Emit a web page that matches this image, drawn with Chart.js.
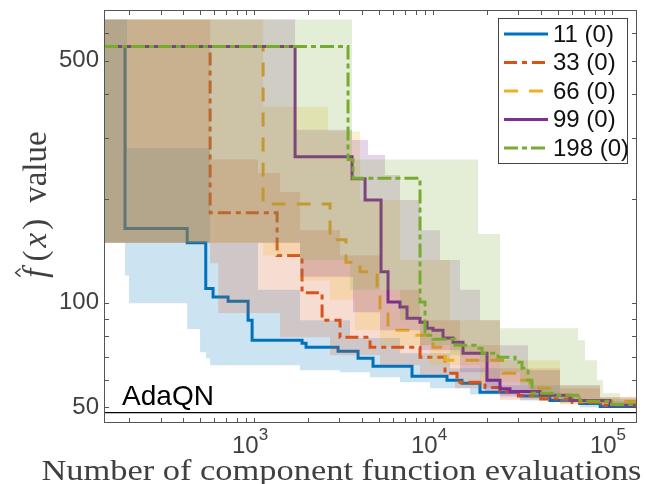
<!DOCTYPE html>
<html>
<head>
<meta charset="utf-8">
<script src="https://cdn.jsdelivr.net/npm/chart.js@4.4.1/dist/chart.umd.min.js"></script>
<style>
    html, body { margin: 0; padding: 0; background: #fff; }
    #wrap { width: 646px; height: 484px; }
</style>
</head>
<body>
<div id="wrap"><canvas id="evalChart" width="646" height="484"></canvas></div>
<script>
// legend labels (batch size (failures))
const seriesLabels = ['11 (0)', '33 (0)', '66 (0)', '99 (0)', '198 (0)'];

// median curves, stepped (value holds until the next x)
const x11 = [145, 190, 423, 537, 590, 716, 926, 975, 1854, 1952, 2946, 3811, 4620, 7632, 11972, 14521, 18303, 30000, 45000, 66000, 86000, 138000];
const y11 = [549, 164, 149, 110, 104, 101, 89, 78, 76.4, 74.4, 72.5, 69.2, 65.6, 61.4, 59.8, 58.6, 55.2, 53.8, 52.3, 51.2, 50.2, 49.6];

const x33 = [145, 568, 1345, 1854, 2399, 3023, 4447, 8461, 11668, 13621, 19521, 23672, 30000, 40000, 60000, 90000, 138000];
const y33 = [549, 182, 137, 107, 89.1, 79.6, 74.4, 69.7, 62.6, 59, 57, 55.5, 54, 52.8, 51.6, 50.6, 49.9];

const x66 = [145, 1123, 2658, 3266, 3911, 4867, 5057, 5606, 7632, 10000, 11668, 24500, 29470, 34840, 45000, 66000, 138000];
const y66 = [549, 193, 152, 131, 123, 107, 95.3, 83.4, 80.6, 74.4, 68.3, 62.6, 59.8, 56.7, 54, 52, 50.4];

const x99 = [145, 1695, 3528, 4171, 5123, 5606, 6542, 7157, 8461, 9259, 10000, 11372, 12934, 14711, 20030, 23672, 26930, 39620, 58280, 97450, 138000];
const y99 = [549, 264, 228, 198, 123, 100.5, 97.2, 90.3, 87.9, 84.5, 83.4, 79.1, 76.9, 71.5, 59.8, 56.5, 55.5, 54.1, 52.3, 50.6, 49.6];

const x198 = [145, 3351, 3573, 8461, 9022, 10000, 13274, 17163, 18784, 23072, 28722, 31420, 33950, 35740, 48050, 66250, 97450, 138000];
const y198 = [549, 259, 229, 100.5, 80.6, 78.5, 75.4, 74, 71.5, 69.7, 67.4, 64.7, 59.8, 54.8, 54.1, 52, 50.9, 50.2];

// shaded ranges (lower / upper), stepped
const band11X = [145, 190, 195, 200, 423, 499, 539, 568, 1052, 1807, 3023, 3439, 4447, 6542, 9622, 12444, 16097, 23672, 30620, 51240, 66250, 138000];
const band11Lo = [149, 120, 120, 99.8, 84, 72, 69.2, 66, 66, 63.9, 63, 63, 61, 59, 56.7, 56.7, 54.4, 54.4, 52.3, 52.3, 49.9, 49.3];
const band11Hi = [657, 657, 280, 280, 280, 280, 280, 149, 109, 89.1, 89.1, 79.1, 79.1, 71.5, 71.5, 64.7, 64.7, 57.8, 57.8, 54.1, 52, 50.2];

const band33X = [145, 568, 630, 1052, 1397, 1807, 2658, 3023, 5057, 8461, 13274, 14157, 23672, 51240, 85700, 138000];
const band33Lo = [149, 130, 93.4, 93.4, 79.6, 79.6, 70.6, 70.6, 66, 61.8, 56.7, 56.7, 52.5, 51, 50.2, 49.3];
const band33Hi = [657, 259, 259, 237, 209, 162, 162, 137, 109, 89.1, 89.1, 75.4, 64.7, 56.7, 53.5, 50.6];

const band66X = [145, 1123, 1695, 1807, 2591, 2658, 3667, 3911, 5057, 6542, 9622, 12444, 18303, 23672, 33950, 51240, 85700, 138000];
const band66Lo = [149, 137, 137, 116, 116, 102, 83.4, 83.4, 75.4, 75.4, 66, 66, 59, 59, 53.5, 51.5, 50.8, 49.9];
const band66Hi = [657, 368, 368, 368, 312, 312, 312, 198, 198, 133, 133, 89.1, 89.1, 68.3, 68.3, 57.8, 53.5, 50.6];

const band99X = [145, 1695, 1807, 3528, 3573, 4335, 5057, 5394, 6542, 8461, 10941, 14157, 18303, 19521, 23672, 33950, 45040, 51240, 85700, 138000];
const band99Lo = [149, 149, 119, 119, 94, 94, 83.4, 83.4, 83.4, 73, 73, 63, 63, 55.2, 53.7, 53.7, 52, 52, 50.6, 49.3];
const band99Hi = [657, 316, 316, 295, 295, 267, 267, 234, 198, 162, 133, 109, 89.1, 89.1, 75.4, 63.9, 63.9, 57.8, 53, 50.6];

const band198X = [145, 1807, 3439, 3528, 6542, 8461, 12444, 17839, 18303, 23672, 30620, 34840, 51240, 64580, 70680, 82460, 89070, 97450, 110840, 138000];
const band198Lo = [149, 133, 109, 109, 89.1, 75.4, 70.6, 70.6, 67.4, 63, 57.8, 53, 51.6, 51.6, 51.6, 51.6, 51.6, 50.2, 50.2, 49.3];
const band198Hi = [657, 657, 657, 259, 259, 259, 259, 158, 158, 84.5, 84.5, 84.5, 84.5, 78, 68.3, 59.8, 54.8, 54.8, 52.3, 50.6];

// reference level
const adaqnX = [145, 138000];
const adaqnY = [48.2, 48.2];
const adaqnLabel = 'AdaQN';
const adaqnLabelX = 183;

// axes
const xRange = [145, 138000];
const yRange = [45, 700];
const xMinorTicks = [200, 300, 400, 500, 600, 700, 800, 900, 2000, 3000, 4000, 5000, 6000, 7000, 8000, 9000, 20000, 30000, 40000, 50000, 60000, 70000, 80000, 90000];
const xMajorTicks = [1000, 10000, 100000];
const xTickLabels = ['10^3', '10^4', '10^5'];
const yTicks = [50, 60, 70, 80, 90, 100, 200, 300, 400, 500, 600];
const yTickLabels = ['50', '100', '500'];
const xTitle = 'Number of component function evaluations';

// styles
const seriesRgb = [[0, 114, 189], [217, 83, 25], [237, 177, 32], [126, 47, 142], [119, 172, 48]];
const seriesDash = [[], [13, 5, 5, 5], [14, 11], [], [14, 4, 5, 4]];
const sansFont = '"Liberation Sans", Arial, sans-serif';
const serifFont = '"Liberation Serif", "Times New Roman", serif';

function toPoints(xs, ys) {
    return xs.map(function (x, i) { return { x: x, y: ys[i] }; });
}

function rgba(c, a) {
    return 'rgba(' + c[0] + ',' + c[1] + ',' + c[2] + ',' + a + ')';
}

document.addEventListener('DOMContentLoaded', function () {
    const medians = [[x11, y11], [x33, y33], [x66, y66], [x99, y99], [x198, y198]];
    const bands = [
        [band11X, band11Lo, band11Hi],
        [band33X, band33Lo, band33Hi],
        [band66X, band66Lo, band66Hi],
        [band99X, band99Lo, band99Hi],
        [band198X, band198Lo, band198Hi]
    ];

    const datasets = [];
    seriesLabels.forEach(function (label, i) {
        // line drawn first, its own band on top of it, next series above both
        datasets.push({
            label: label,
            data: toPoints(medians[i][0], medians[i][1]),
            borderColor: rgba(seriesRgb[i], 1),
            borderWidth: 3,
            borderDash: seriesDash[i],
            borderCapStyle: 'butt',
            stepped: 'before',
            pointRadius: 0,
            fill: false,
            order: 100 - 2 * i
        });
        datasets.push({
            label: label + ' low',
            data: toPoints(bands[i][0], bands[i][1]),
            borderColor: 'rgba(0,0,0,0)',
            borderWidth: 0,
            stepped: 'before',
            pointRadius: 0,
            fill: false,
            order: 99 - 2 * i
        });
        datasets.push({
            label: label + ' high',
            data: toPoints(bands[i][0], bands[i][2]),
            borderColor: 'rgba(0,0,0,0)',
            borderWidth: 0,
            stepped: 'before',
            pointRadius: 0,
            fill: '-1',
            backgroundColor: rgba(seriesRgb[i], 0.2),
            order: 99 - 2 * i
        });
    });
    datasets.push({
        label: adaqnLabel,
        data: toPoints(adaqnX, adaqnY),
        borderColor: '#000',
        borderWidth: 1.2,
        pointRadius: 0,
        fill: false,
        order: 0
    });

    const axesDecor = {
        id: 'axesDecor',
        afterDraw: function (chart) {
            const ctx = chart.ctx;
            const area = chart.chartArea;
            const xs = chart.scales.x;
            const ys = chart.scales.y;
            ctx.save();
            ctx.setLineDash([]);

            // AdaQN label
            ctx.fillStyle = '#000';
            ctx.font = '28px ' + sansFont;
            ctx.textAlign = 'left';
            ctx.textBaseline = 'alphabetic';
            ctx.fillText(adaqnLabel, xs.getPixelForValue(adaqnLabelX), ys.getPixelForValue(adaqnY[0]) - 8);

            // box and inward ticks
            ctx.strokeStyle = '#555';
            ctx.lineWidth = 1;
            ctx.strokeRect(area.left + 0.5, area.top + 0.5, area.right - area.left - 1, area.bottom - area.top - 1);
            ctx.beginPath();
            xMinorTicks.concat(xMajorTicks).forEach(function (v) {
                const px = Math.round(xs.getPixelForValue(v)) + 0.5;
                ctx.moveTo(px, area.bottom);
                ctx.lineTo(px, area.bottom - 5);
                ctx.moveTo(px, area.top);
                ctx.lineTo(px, area.top + 5);
            });
            yTicks.forEach(function (v) {
                const py = Math.round(ys.getPixelForValue(v)) + 0.5;
                ctx.moveTo(area.left, py);
                ctx.lineTo(area.left + 5, py);
                ctx.moveTo(area.right, py);
                ctx.lineTo(area.right - 5, py);
            });
            ctx.stroke();

            // x tick labels with superscript
            ctx.fillStyle = '#404040';
            xMajorTicks.forEach(function (v, i) {
                const parts = xTickLabels[i].split('^');
                ctx.font = '24px ' + sansFont;
                const wb = ctx.measureText(parts[0]).width;
                ctx.font = '17px ' + sansFont;
                const we = ctx.measureText(parts[1]).width;
                const left = xs.getPixelForValue(v) - (wb + we) / 2 - 4;
                ctx.font = '24px ' + sansFont;
                ctx.fillText(parts[0], left, area.bottom + 30);
                ctx.font = '17px ' + sansFont;
                ctx.fillText(parts[1], left + wb, area.bottom + 17);
            });

            // x title
            ctx.font = '29px ' + serifFont;
            ctx.textAlign = 'center';
            const tw = ctx.measureText(xTitle).width;
            ctx.save();
            ctx.translate(341.5, area.bottom + 57);
            ctx.scale(Math.max(1, 600 / tw), 1);
            ctx.fillText(xTitle, 0, 0);
            ctx.restore();

            // y title: \hat{f}(x) value
            const segs = [
                { t: 'f', it: true, gap: 0 },
                { t: '(', it: false, gap: 7 },
                { t: 'x', it: true, gap: 3 },
                { t: ')', it: false, gap: 3 },
                { t: 'value', it: false, gap: 16 }
            ];
            ctx.textAlign = 'left';
            let total = 0;
            segs.forEach(function (s) {
                ctx.font = (s.it ? 'italic ' : '') + '33px ' + serifFont;
                s.w = ctx.measureText(s.t).width;
                total += s.gap + s.w;
            });
            ctx.save();
            ctx.translate(area.left - 58.5, (area.top + area.bottom) / 2 - 12);
            ctx.rotate(-Math.PI / 2);
            let pos = -total / 2;
            segs.forEach(function (s, i) {
                pos += s.gap;
                ctx.font = (s.it ? 'italic ' : '') + '33px ' + serifFont;
                ctx.fillText(s.t, pos, 0);
                if (i === 0) {
                    // hat over f
                    ctx.beginPath();
                    ctx.lineWidth = 1.3;
                    ctx.strokeStyle = '#404040';
                    ctx.moveTo(pos + 1, -25);
                    ctx.lineTo(pos + 5, -30);
                    ctx.lineTo(pos + 9, -25);
                    ctx.stroke();
                }
                pos += s.w;
            });
            ctx.restore();

            // legend box
            const lx = area.right - 139;
            const ly = area.top + 8;
            const lw = 130;
            const lh = 146;
            ctx.fillStyle = '#fff';
            ctx.fillRect(lx, ly, lw, lh);
            ctx.strokeStyle = '#444';
            ctx.lineWidth = 1;
            ctx.strokeRect(lx + 0.5, ly + 0.5, lw - 1, lh - 1);
            ctx.font = '24px ' + sansFont;
            ctx.textBaseline = 'middle';
            seriesLabels.forEach(function (label, i) {
                const cy = ly + 16 + i * 28.5;
                ctx.strokeStyle = rgba(seriesRgb[i], 1);
                ctx.lineWidth = 3;
                ctx.lineCap = 'butt';
                ctx.setLineDash(seriesDash[i]);
                ctx.beginPath();
                ctx.moveTo(lx + 6, cy);
                ctx.lineTo(lx + 50, cy);
                ctx.stroke();
                ctx.setLineDash([]);
                ctx.fillStyle = '#111';
                ctx.fillText(label, lx + 55, cy + 1);
            });

            ctx.restore();
        }
    };

    const ctx = document.getElementById('evalChart').getContext('2d');
    new Chart(ctx, {
        type: 'line',
        data: { datasets: datasets },
        plugins: [axesDecor],
        options: {
            responsive: false,
            maintainAspectRatio: false,
            animation: false,
            devicePixelRatio: 1,
            layout: { padding: { top: 10, right: 9, bottom: 0, left: 0 } },
            plugins: {
                legend: { display: false },
                tooltip: { enabled: false },
                title: { display: false }
            },
            scales: {
                x: {
                    type: 'logarithmic',
                    min: xRange[0],
                    max: xRange[1],
                    grid: { display: false, drawTicks: false },
                    border: { display: false },
                    ticks: { display: false },
                    afterFit: function (scale) {
                        scale.height = 61;
                        scale.paddingLeft = 0;
                        scale.paddingRight = 0;
                    }
                },
                y: {
                    type: 'logarithmic',
                    min: yRange[0],
                    max: yRange[1],
                    grid: { display: false, drawTicks: false },
                    border: { display: false },
                    afterBuildTicks: function (scale) {
                        scale.ticks = yTicks.map(function (v) { return { value: v }; });
                    },
                    ticks: {
                        autoSkip: false,
                        padding: 5,
                        color: '#404040',
                        font: { family: sansFont, size: 24 },
                        callback: function (value) {
                            const s = String(value);
                            return yTickLabels.indexOf(s) >= 0 ? s : '';
                        }
                    },
                    afterFit: function (scale) {
                        scale.width = 104;
                        scale.paddingTop = 0;
                        scale.paddingBottom = 0;
                    }
                }
            }
        }
    });
});
</script>
</body>
</html>
